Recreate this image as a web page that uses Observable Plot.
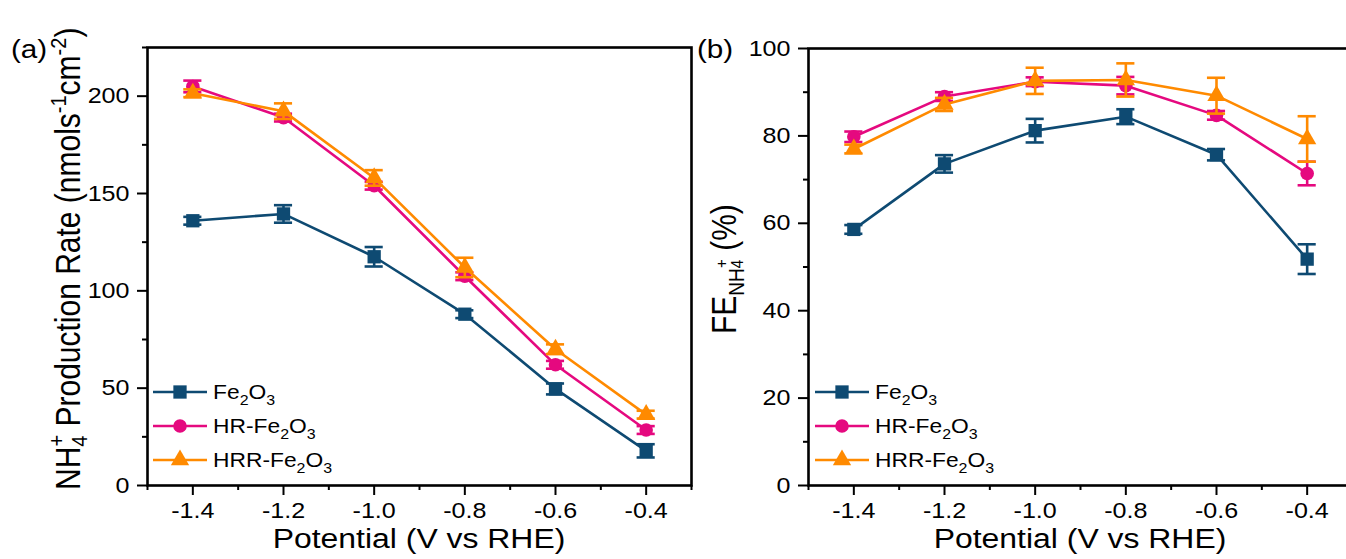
<!DOCTYPE html>
<html><head><meta charset="utf-8">
<script src="https://cdn.jsdelivr.net/npm/d3@7"></script>
<script src="https://cdn.jsdelivr.net/npm/@observablehq/plot@0.6"></script>
<style>
html,body{margin:0;padding:0;background:#fff;}
#wrap{position:relative;width:1346px;height:559px;overflow:hidden;background:#fff;}
#wrap svg{position:absolute;top:0;}
</style></head><body><div id="wrap"></div>
<script>
// ---- data ----
const potential = [-1.4, -1.2, -1.0, -0.8, -0.6, -0.4];
const potentialTicks = [-1.4, -1.2, -1.0, -0.8, -0.6, -0.4];
const potentialMinor = [-1.5, -1.3, -1.1, -0.9, -0.7, -0.5, -0.3];

const rateFe = [136, 139.5, 117.5, 88, 49.6, 17.8];
const rateFeErr = [2, 4.5, 5, 2, 2.8, 3.4];
const rateHR = [205, 189, 154, 107.5, 62, 28.5];
const rateHRErr = [3, 2, 2, 2, 2, 2];
const rateHRR = [201.5, 192.3, 158, 112, 70, 36.4];
const rateHRRErr = [2, 4, 4, 5, 2.5, 2];
const rateTicks = [0, 50, 100, 150, 200];
const rateMinor = [25, 75, 125, 175, 225];

const feFe = [58.6, 73.6, 81.2, 84.4, 75.7, 51.8];
const feFeErr = [1, 2, 2.7, 1.7, 1.3, 3.4];
const feHR = [79.8, 89, 92.4, 91.5, 84.7, 71.4];
const feHRErr = [1.2, 1, 1, 2, 1, 2.7];
const feHRR = [77, 87.2, 92.6, 92.8, 89.2, 79.3];
const feHRRErr = [1, 1.5, 3, 3.8, 4.1, 5.2];
const feTicks = [0, 20, 40, 60, 80, 100];
const feMinor = [10, 30, 50, 70, 90];

const seriesNames = ["Fe2O3", "HR-Fe2O3", "HRR-Fe2O3"];
const seriesColors = ["#0e4a72", "#e5097f", "#ff8a00"];
const seriesSymbols = ["square", "circle", "triangle"];
const symbolR = [7.5, 6.8, 6.8];

const FONT = "'Liberation Sans', Arial, sans-serif";
const SX = 1.14; // horizontal stretch of the reference lettering

function rows(values, errs) {
  return potential.map((x, i) => ({x, y: values[i], e: errs[i]}));
}

function seriesMarks(data, i) {
  const c = seriesColors[i];
  return [
    Plot.line(data, {x: "x", y: "y", stroke: c, strokeWidth: 2.6}),
    Plot.ruleX(data, {x: "x", y1: d => d.y - d.e, y2: d => d.y + d.e, stroke: c, strokeWidth: 2.6}),
    Plot.ruleY(data, {y: d => d.y - d.e, x1: d => d.x - 0.02, x2: d => d.x + 0.02, stroke: c, strokeWidth: 2.6}),
    Plot.ruleY(data, {y: d => d.y + d.e, x1: d => d.x - 0.02, x2: d => d.x + 0.02, stroke: c, strokeWidth: 2.6}),
    Plot.dot(data, {x: "x", y: "y", symbol: seriesSymbols[i], r: symbolR[i], fill: c, stroke: "none"})
  ];
}

function panel(opts) {
  const {series, yDomain, yTicks, yMinor, width, ml, mr, mt, mb} = opts;
  const svg = Plot.plot({
    width, height: 559,
    marginLeft: ml, marginRight: mr, marginTop: mt, marginBottom: mb,
    style: {fontFamily: FONT, fontSize: "22px", background: "transparent", color: "#000", overflow: "visible"},
    x: {domain: [-1.5, -0.3]},
    y: {domain: yDomain},
    marks: [
      ...series.flatMap((s, i) => seriesMarks(s, i)),
      Plot.axisX({ticks: potentialTicks, tickSize: 10, tickPadding: 7, strokeWidth: 2, tickFormat: d => d.toFixed(1), label: null, fontSize: 22}),
      Plot.axisX({ticks: potentialMinor, tickSize: 5, strokeWidth: 2, tickFormat: () => "", label: null}),
      Plot.axisY({ticks: yTicks, tickSize: 10, tickPadding: 8, strokeWidth: 2, tickFormat: d => String(d), label: null, fontSize: 22}),
      Plot.axisY({ticks: yMinor, tickSize: 5, strokeWidth: 2, tickFormat: () => "", label: null}),
      Plot.frame({stroke: "#000", strokeWidth: 2.6})
    ]
  });
  // enlarge and widen the tick labels like the reference
  d3.select(svg).selectAll('g[aria-label$="tick label"] text').each(function() {
    const el = d3.select(this);
    el.attr("font-size", 22).style("font-size", "22px");
    const tr = el.attr("transform");
    if (tr) el.attr("transform", tr + ` scale(${SX},1)`);
    else {
      const x = +el.attr("x") || 0, y = +el.attr("y") || 0;
      el.attr("x", null).attr("y", null).attr("transform", `translate(${x},${y}) scale(${SX},1)`);
    }
  });
  return svg;
}

function addSubText(sel, name, size, subSize) {
  let sub = false;
  for (const ch of name) {
    const isDigit = /[0-9]/.test(ch);
    if (isDigit && !sub) { sel.append("tspan").attr("font-size", subSize).attr("dy", 6).text(ch); sub = true; }
    else if (isDigit && sub) { sel.append("tspan").attr("font-size", subSize).text(ch); }
    else if (!isDigit && sub) { sel.append("tspan").attr("font-size", size).attr("dy", -6).text(ch); sub = false; }
    else { sel.append("tspan").attr("font-size", size).text(ch); }
  }
}

function addText(s, x, y, size, anchor, extra = "") {
  return s.append("text").attr("text-anchor", anchor).attr("font-size", size).attr("fill", "#000")
    .attr("transform", `translate(${x},${y}) scale(${SX},1)${extra}`);
}

function addLegend(svg, x0, ys) {
  const g = d3.select(svg).append("g");
  const symTypes = {square: d3.symbolSquare, circle: d3.symbolCircle, triangle: d3.symbolTriangle};
  seriesNames.forEach((name, i) => {
    const y = ys[i];
    g.append("line").attr("x1", x0).attr("x2", x0 + 54).attr("y1", y).attr("y2", y)
      .attr("stroke", seriesColors[i]).attr("stroke-width", 2.6);
    g.append("path").attr("transform", `translate(${x0 + 27},${y})`)
      .attr("d", d3.symbol(symTypes[seriesSymbols[i]], symbolR[i] * symbolR[i] * Math.PI)())
      .attr("fill", seriesColors[i]);
    const t = addText(g, x0 + 60, y + 7, 20, "start");
    addSubText(t, name, 20, 14);
  });
}

const wrap = document.getElementById("wrap");

// ---- panel (a) ----
const left = panel({
  series: [rows(rateFe, rateFeErr), rows(rateHR, rateHRErr), rows(rateHRR, rateHRRErr)],
  yDomain: [0, 225], yTicks: rateTicks, yMinor: rateMinor,
  width: 700, ml: 147, mr: 9, mt: 47, mb: 74
});
left.style.left = "0px";
wrap.appendChild(left);
{
  const s = d3.select(left);
  addText(s, 11, 58, 26, "start").text("(a)");
  addText(s, 419, 548, 28, "middle").text("Potential (V vs RHE)");
  const t = addText(s, 80, 490, 30, "start", " rotate(-90)");
  t.append("tspan").text("NH");
  t.append("tspan").attr("font-size", 20).attr("dy", 6).text("4");
  t.append("tspan").attr("font-size", 20).attr("dx", -11).attr("dy", -20).text("+");
  t.append("tspan").attr("dy", 14).text(" Production Rate (nmols");
  t.append("tspan").attr("font-size", 20).attr("dy", -12).text("-1");
  t.append("tspan").attr("dy", 12).text("cm");
  t.append("tspan").attr("font-size", 20).attr("dy", -12).text("-2");
  t.append("tspan").attr("dy", 12).text(")");
  addLegend(left, 153, [392, 426, 460]);
}

// ---- panel (b) ----
const right = panel({
  series: [rows(feFe, feFeErr), rows(feHR, feHRErr), rows(feHRR, feHRRErr)],
  yDomain: [0, 100], yTicks: feTicks, yMinor: feMinor,
  width: 720, ml: 128, mr: 48, mt: 48, mb: 74
});
right.style.left = "680px";
wrap.appendChild(right);
{
  const s = d3.select(right);
  addText(s, 17, 58, 26, "start").text("(b)");
  addText(s, 400, 548, 28, "middle").text("Potential (V vs RHE)");
  const t = addText(s, 56, 334, 30, "start", " rotate(-90)");
  t.append("tspan").text("FE");
  t.append("tspan").attr("font-size", 19).attr("dy", 7).text("NH");
  t.append("tspan").attr("font-size", 15).attr("dy", -1).text("4");
  t.append("tspan").attr("font-size", 15).attr("dx", -8).attr("dy", -14).text("+");
  t.append("tspan").attr("dy", 8).text(" (%)");
  addLegend(right, 135, [392, 426, 460]);
}
</script></body></html>
